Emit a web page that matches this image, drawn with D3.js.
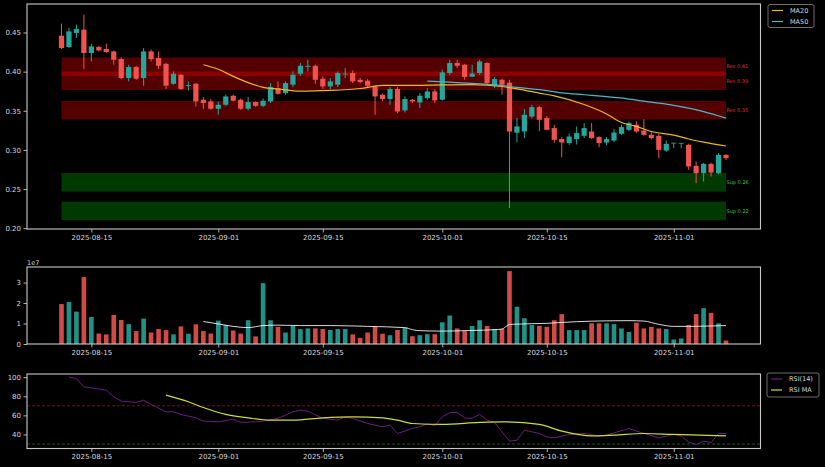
<!DOCTYPE html>
<html><head><meta charset="utf-8">
<script src="https://cdn.jsdelivr.net/npm/d3@7"></script>
<style>body{margin:0;background:#000;} svg{display:block;font-family:"DejaVu Sans",sans-serif;}</style>
</head><body><svg id="c" width="825" height="467"></svg>
<script>
const dates = ["2025-08-11","2025-08-12","2025-08-13","2025-08-14","2025-08-15","2025-08-16","2025-08-17","2025-08-18","2025-08-19","2025-08-20",
"2025-08-21","2025-08-22","2025-08-23","2025-08-24","2025-08-25","2025-08-26","2025-08-27","2025-08-28","2025-08-29","2025-08-30",
"2025-08-31","2025-09-01","2025-09-02","2025-09-03","2025-09-04","2025-09-05","2025-09-06","2025-09-07","2025-09-08","2025-09-09",
"2025-09-10","2025-09-11","2025-09-12","2025-09-13","2025-09-14","2025-09-15","2025-09-16","2025-09-17","2025-09-18","2025-09-19",
"2025-09-20","2025-09-21","2025-09-22","2025-09-23","2025-09-24","2025-09-25","2025-09-26","2025-09-27","2025-09-28","2025-09-29",
"2025-09-30","2025-10-01","2025-10-02","2025-10-03","2025-10-04","2025-10-05","2025-10-06","2025-10-07","2025-10-08","2025-10-09",
"2025-10-10","2025-10-11","2025-10-12","2025-10-13","2025-10-14","2025-10-15","2025-10-16","2025-10-17","2025-10-18","2025-10-19",
"2025-10-20","2025-10-21","2025-10-22","2025-10-23","2025-10-24","2025-10-25","2025-10-26","2025-10-27","2025-10-28","2025-10-29",
"2025-10-30","2025-10-31","2025-11-01","2025-11-02","2025-11-03","2025-11-04","2025-11-05","2025-11-06","2025-11-07","2025-11-08"];
const opens = [0.4459,0.4315,0.4494,0.4536,0.4238,0.4315,0.4289,0.4258,0.4161,0.3918,
0.4059,0.3918,0.4258,0.4174,0.4100,0.3845,0.3960,0.3818,0.3845,0.3641,
0.3619,0.3525,0.3577,0.3692,0.3641,0.3526,0.3611,0.3564,0.3619,0.3790,
0.3726,0.3833,0.3973,0.4062,0.4075,0.3909,0.3811,0.3833,0.3965,0.3982,
0.3896,0.3884,0.3811,0.3705,0.3650,0.3778,0.3504,0.3641,0.3606,0.3662,
0.3747,0.3641,0.3982,0.4110,0.4088,0.3935,0.3982,0.4110,0.3820,0.3896,
0.3860,0.3220,0.3235,0.3427,0.3547,0.3407,0.3279,0.3139,0.3087,0.3138,
0.3180,0.3235,0.3164,0.3095,0.3120,0.3206,0.3257,0.3321,0.3248,0.3193,
0.3180,0.2992,0.3087,0.3085,0.3065,0.2797,0.2703,0.2822,0.2703,0.2937];
const highs = [0.4613,0.4558,0.4600,0.4728,0.4353,0.4331,0.4357,0.4271,0.4182,0.4088,
0.4075,0.4302,0.4280,0.4258,0.4110,0.4003,0.3969,0.3875,0.3854,0.3675,
0.3650,0.3619,0.3705,0.3705,0.3657,0.3675,0.3620,0.3657,0.3854,0.3875,
0.3875,0.4003,0.4110,0.4152,0.4088,0.3939,0.3918,0.4003,0.4046,0.4015,
0.3920,0.3905,0.3820,0.3720,0.3803,0.3803,0.3683,0.3650,0.3726,0.3790,
0.3778,0.4030,0.4152,0.4152,0.4100,0.4088,0.4152,0.4120,0.3931,0.3910,
0.3896,0.3410,0.3522,0.3577,0.3560,0.3430,0.3320,0.3164,0.3210,0.3300,
0.3343,0.3343,0.3175,0.3164,0.3270,0.3320,0.3365,0.3365,0.3394,0.3225,
0.3210,0.3120,0.3092,0.3090,0.3080,0.2850,0.2836,0.2836,0.2960,0.2945];
const lows = [0.4289,0.4300,0.4430,0.4033,0.4130,0.4258,0.4238,0.4088,0.3905,0.3875,
0.3896,0.3820,0.4130,0.4033,0.3778,0.3833,0.3769,0.3760,0.3555,0.3522,
0.3513,0.3449,0.3564,0.3620,0.3513,0.3504,0.3550,0.3547,0.3599,0.3705,
0.3705,0.3800,0.3948,0.4003,0.3845,0.3778,0.3778,0.3803,0.3918,0.3854,
0.3850,0.3803,0.3449,0.3620,0.3577,0.3470,0.3478,0.3600,0.3535,0.3641,
0.3599,0.3630,0.3960,0.4046,0.3896,0.3930,0.3960,0.3833,0.3790,0.3705,
0.2256,0.3095,0.3151,0.3407,0.3240,0.3250,0.3090,0.2906,0.3065,0.3070,
0.3150,0.3140,0.3036,0.3060,0.3100,0.3190,0.3240,0.3220,0.3180,0.3135,
0.2895,0.2975,0.3023,0.3020,0.2746,0.2575,0.2596,0.2660,0.2690,0.2870];
const closes = [0.4302,0.4514,0.4545,0.4238,0.4322,0.4271,0.4251,0.4152,0.3918,0.4059,
0.3909,0.4258,0.4161,0.4075,0.3820,0.3973,0.3778,0.3828,0.3619,0.3599,
0.3526,0.3577,0.3683,0.3628,0.3526,0.3611,0.3564,0.3628,0.3805,0.3717,
0.3854,0.3960,0.4075,0.4075,0.3896,0.3811,0.3875,0.3982,0.3975,0.3875,
0.3867,0.3820,0.3683,0.3650,0.3778,0.3491,0.3650,0.3619,0.3692,0.3747,
0.3632,0.3990,0.4110,0.4075,0.3931,0.3975,0.4130,0.3854,0.3905,0.3833,
0.3235,0.3300,0.3449,0.3547,0.3385,0.3257,0.3129,0.3095,0.3171,0.3215,
0.3279,0.3151,0.3087,0.3138,0.3222,0.3292,0.3343,0.3235,0.3193,0.3151,
0.3001,0.3078,0.3092,0.3090,0.2788,0.2703,0.2822,0.2711,0.2937,0.2895];
const volumes = [19500000,20500000,15800000,32700000,13200000,5100000,4700000,14200000,11700000,9700000,
6300000,12400000,5600000,7300000,6800000,4700000,8600000,5000000,9600000,6300000,
5100000,11400000,9300000,6600000,5100000,11600000,3700000,29700000,11600000,8300000,
5600000,8900000,7300000,7600000,7600000,7300000,6900000,7300000,7300000,4700000,
3000000,5600000,8300000,5000000,4300000,6900000,7900000,3800000,4300000,4800000,
4800000,10600000,13900000,7600000,6300000,8800000,11600000,8800000,7300000,7300000,
35600000,18200000,12600000,9300000,8900000,8400000,11600000,14600000,6800000,6800000,
6800000,10100000,10100000,10100000,9700000,7600000,5900000,10400000,7600000,8300000,
7600000,7300000,2200000,2700000,9300000,14600000,17500000,15200000,10100000,1700000];
const ma20Points = [["2025-08-30",0.4088],["2025-09-01",0.4030],["2025-09-03",0.3940],["2025-09-05",0.3860],["2025-09-07",0.3800],
["2025-09-09",0.3778],["2025-09-12",0.3750],["2025-09-16",0.3760],["2025-09-20",0.3785],["2025-09-23",0.3825],["2025-09-27",0.3825],
["2025-10-01",0.3830],["2025-10-05",0.3833],["2025-10-09",0.3810],["2025-10-11",0.3780],["2025-10-14",0.3726],["2025-10-16",0.3690],
["2025-10-20",0.3580],["2025-10-23",0.3460],["2025-10-25",0.3350],["2025-10-27",0.3300],["2025-10-29",0.3235],["2025-11-01",0.3190],
["2025-11-03",0.3140],["2025-11-05",0.3100],["2025-11-08",0.3050]];
const ma50Points = [["2025-09-29",0.3880],["2025-10-02",0.3865],["2025-10-05",0.3850],["2025-10-08",0.3830],["2025-10-11",0.3800],
["2025-10-14",0.3770],["2025-10-17",0.3730],["2025-10-20",0.3705],["2025-10-23",0.3680],["2025-10-26",0.3650],["2025-10-29",0.3610],
["2025-11-01",0.3570],["2025-11-03",0.3535],["2025-11-05",0.3490],["2025-11-08",0.3407]];
const volMaPoints = [["2025-08-30",11000000],["2025-09-01",9800000],["2025-09-03",8600000],["2025-09-05",8000000],["2025-09-07",9000000],
["2025-09-09",9200000],["2025-09-12",9000000],["2025-09-16",9000000],["2025-09-21",8600000],["2025-09-26",8000000],["2025-09-27",7000000],
["2025-09-28",6500000],["2025-10-01",6300000],["2025-10-05",6600000],["2025-10-08",7000000],["2025-10-09",7300000],["2025-10-10",9500000],
["2025-10-11",9700000],["2025-10-15",10100000],["2025-10-19",10900000],["2025-10-23",11300000],["2025-10-26",11400000],["2025-10-28",11200000],
["2025-10-30",9600000],["2025-11-01",8600000],["2025-11-03",8600000],["2025-11-06",8800000],["2025-11-08",9000000]];
const rsiPoints = [["2025-08-12",100],["2025-08-13",98.6],["2025-08-14",89.8],["2025-08-15",88.8],["2025-08-17",86.4],["2025-08-18",79.4],
["2025-08-19",74.9],["2025-08-21",73.5],["2025-08-22",75.9],["2025-08-23",71.4],["2025-08-25",63.7],["2025-08-26",63.7],["2025-08-27",61],
["2025-08-29",57.4],["2025-08-30",54],["2025-09-01",53.2],["2025-09-03",56],["2025-09-04",52.6],["2025-09-06",53.2],["2025-09-07",54],
["2025-09-09",56.8],["2025-09-11",63.7],["2025-09-12",65.4],["2025-09-13",64.4],["2025-09-15",56.8],["2025-09-17",55],["2025-09-18",58.4],
["2025-09-19",56.8],["2025-09-21",51.5],["2025-09-23",48],["2025-09-24",49.7],["2025-09-25",41],["2025-09-27",46.3],["2025-09-28",48],
["2025-09-29",51.5],["2025-09-30",49],["2025-10-01",58.4],["2025-10-02",63],["2025-10-03",63],["2025-10-04",57.4],["2025-10-05",56.8],
["2025-10-06",61],["2025-10-07",55],["2025-10-08",52.6],["2025-10-09",42.7],["2025-10-10",33],["2025-10-11",34],["2025-10-12",44.5],
["2025-10-14",41],["2025-10-15",37.5],["2025-10-16",36.4],["2025-10-18",40],["2025-10-20",41],["2025-10-22",38.5],["2025-10-23",39.3],
["2025-10-26",46.3],["2025-10-27",43.5],["2025-10-30",36.4],["2025-11-01",40],["2025-11-02",38.5],["2025-11-03",32],["2025-11-04",29.5],
["2025-11-05",33],["2025-11-06",31.5],["2025-11-07",41],["2025-11-08",41]];
const rsiMaPoints = [["2025-08-25",81.2],["2025-08-28",74.2],["2025-08-30",68.2],["2025-09-02",61],["2025-09-05",57.4],["2025-09-08",55],
["2025-09-11",55],["2025-09-15",57.4],["2025-09-19",58.4],["2025-09-23",57.4],["2025-09-25",55],["2025-09-27",51.5],["2025-10-01",50.5],
["2025-10-06",52.6],["2025-10-09",53.2],["2025-10-14",50.5],["2025-10-17",43.5],["2025-10-21",38.5],["2025-10-24",39.3],["2025-10-28",41],
["2025-11-01",40],["2025-11-08",38.5]];
const resistanceLevels = [0.4063, 0.3883, 0.3507];
const supportLevels = [0.2586, 0.2221];
const zoneHalfWidth = 0.0118;
const priceTicks = [0.20, 0.25, 0.30, 0.35, 0.40, 0.45];
const volumeTicks = [0, 1e7, 2e7, 3e7];
const rsiTicks = [40, 60, 80, 100];
const rsiLevels = [70, 30];
const dateTicks = ["2025-08-15","2025-09-01","2025-09-15","2025-10-01","2025-10-15","2025-11-01"];

const parse = d3.utcParse("%Y-%m-%d");
const D = dates.map(parse);
const day = 864e5;
const svg = d3.select("#c");
svg.append("rect").attr("width",825).attr("height",467).attr("fill","#000");
const L = 27, R = 760.5;
const x = d3.scaleUtc().domain([new Date(+D[0]-4.62*day), new Date(+D[D.length-1]+4.62*day)]).range([L, R]);
const bw = (x(D[1]) - x(D[0]));
const UP = "#26a69a", DN = "#ef5350";
const TXT = "#d8d8d8", SP = "#c8c8c8";
const RSI_C = "#6a1f7e";

function frame(top, bottom){
  svg.append("rect").attr("x",L).attr("y",top).attr("width",R-L).attr("height",bottom-top)
    .attr("fill","none").attr("stroke",SP).attr("stroke-width",1.1);
}
function styleAxis(g){
  g.select(".domain").remove();
  g.selectAll(".tick line").attr("stroke",SP).attr("stroke-width",0.9);
  g.selectAll(".tick text").attr("fill",TXT).attr("font-size","7px").attr("font-family","DejaVu Sans, sans-serif");
}
function xAxis(yb){
  const g = svg.append("g").attr("transform",`translate(0,${yb})`)
    .call(d3.axisBottom(x).tickValues(dateTicks.map(parse)).tickFormat(d3.utcFormat("%Y-%m-%d")).tickSize(3.5).tickPadding(2.5));
  styleAxis(g);
}
function yAxis(scale, ticks, fmt){
  const g = svg.append("g").attr("transform",`translate(${L},0)`)
    .call(d3.axisLeft(scale).tickValues(ticks).tickFormat(fmt).tickSize(3.5).tickPadding(2.5));
  styleAxis(g);
}

// ---------- main price panel ----------
const pTop = 4, pBot = 229;
const yP = d3.scaleLinear().domain([0.1990, 0.4864]).range([pBot, pTop]);
const zoneX0 = x(D[0]), zoneX1 = x(D[D.length-1]);
const zones = svg.append("g");
resistanceLevels.forEach(lv => {
  zones.append("rect").attr("x",zoneX0).attr("width",zoneX1-zoneX0)
    .attr("y",yP(lv+zoneHalfWidth)).attr("height",yP(lv-zoneHalfWidth)-yP(lv+zoneHalfWidth))
    .attr("fill","#ff0000").attr("fill-opacity",0.33);
});
supportLevels.forEach(lv => {
  zones.append("rect").attr("x",zoneX0).attr("width",zoneX1-zoneX0)
    .attr("y",yP(lv+zoneHalfWidth)).attr("height",yP(lv-zoneHalfWidth)-yP(lv+zoneHalfWidth))
    .attr("fill","#00b000").attr("fill-opacity",0.33);
});
resistanceLevels.forEach(lv => {
  svg.append("text").attr("x",zoneX1+0.5).attr("y",yP(lv)).attr("dy","0.35em")
    .attr("fill","#e03030").attr("font-size","5px").text("Res " + lv.toFixed(2));
});
supportLevels.forEach(lv => {
  svg.append("text").attr("x",zoneX1+0.5).attr("y",yP(lv)).attr("dy","0.35em")
    .attr("fill","#30d030").attr("font-size","5px").text("Sup " + lv.toFixed(2));
});

// candles
const cg = svg.append("g");
D.forEach((d,i) => {
  const up = closes[i] >= opens[i];
  const col = up ? UP : DN;
  const cx = x(d);
  cg.append("line").attr("x1",cx).attr("x2",cx).attr("y1",yP(highs[i])).attr("y2",yP(lows[i]))
    .attr("stroke",col).attr("stroke-width",1);
  const top = yP(Math.max(opens[i],closes[i])), bot = yP(Math.min(opens[i],closes[i]));
  cg.append("rect").attr("x",cx-bw*0.35).attr("width",bw*0.7).attr("y",top).attr("height",Math.max(0.8,bot-top))
    .attr("fill",col);
});

const lineP = d3.line().x(p => x(parse(p[0]))).y(p => yP(p[1])).curve(d3.curveMonotoneX);
svg.append("path").datum(ma20Points).attr("d",lineP).attr("fill","none").attr("stroke","#e8b923").attr("stroke-width",1.2);
svg.append("path").datum(ma50Points).attr("d",lineP).attr("fill","none").attr("stroke","#4db6c6").attr("stroke-width",1.2);

frame(pTop, pBot);
yAxis(yP, priceTicks, d3.format(".2f"));
xAxis(pBot);

function legend(x0, y0, w, h, items){
  const g = svg.append("g");
  g.append("rect").attr("x",x0).attr("y",y0).attr("width",w).attr("height",h).attr("rx",2)
    .attr("fill","#000").attr("stroke","#888").attr("stroke-width",0.8);
  items.forEach((it,k) => {
    const yy = y0 + 6 + k*11;
    g.append("line").attr("x1",x0+4).attr("x2",x0+15).attr("y1",yy).attr("y2",yy)
      .attr("stroke",it[1]).attr("stroke-width",1.2);
    g.append("text").attr("x",x0+22).attr("y",yy).attr("dy","0.35em").attr("fill",TXT)
      .attr("font-size","6.5px").text(it[0]);
  });
}
legend(768, 4.5, 46, 23, [["MA20","#e8b923"],["MA50","#4db6c6"]]);

// ---------- volume panel ----------
const vTop = 267, vBot = 344;
const yV = d3.scaleLinear().domain([0, 3.76e7]).range([vBot, vTop]);
const vg = svg.append("g");
D.forEach((d,i) => {
  const up = closes[i] >= opens[i];
  vg.append("rect").attr("x",x(d)-bw*0.31).attr("width",bw*0.62)
    .attr("y",yV(volumes[i])).attr("height",vBot-yV(volumes[i]))
    .attr("fill",up?UP:DN).attr("fill-opacity",0.88);
});
const lineV = d3.line().x(p => x(parse(p[0]))).y(p => yV(p[1])).curve(d3.curveMonotoneX);
svg.append("path").datum(volMaPoints).attr("d",lineV).attr("fill","none").attr("stroke","#ffffff").attr("stroke-width",1).attr("stroke-opacity",0.85);
frame(vTop, vBot);
yAxis(yV, volumeTicks, v => String(v/1e7));
xAxis(vBot);
svg.append("text").attr("x",L).attr("y",265).attr("fill",TXT).attr("font-size","6.5px").text("1e7");

// ---------- RSI panel ----------
const rTop = 374, rBot = 448.5;
const yR = d3.scaleLinear().domain([25.3, 103.3]).range([rBot, rTop]);
svg.append("line").attr("x1",L).attr("x2",R).attr("y1",yR(rsiLevels[0])).attr("y2",yR(rsiLevels[0]))
  .attr("stroke","#c02020").attr("stroke-opacity",0.65).attr("stroke-dasharray","3,2").attr("stroke-width",0.9);
svg.append("line").attr("x1",L).attr("x2",R).attr("y1",yR(rsiLevels[1])).attr("y2",yR(rsiLevels[1]))
  .attr("stroke","#20a020").attr("stroke-opacity",0.65).attr("stroke-dasharray","3,2").attr("stroke-width",0.9);
const lineR = d3.line().x(p => x(parse(p[0]))).y(p => yR(p[1]));
svg.append("path").datum(rsiPoints).attr("d",lineR).attr("fill","none").attr("stroke",RSI_C).attr("stroke-width",1);
svg.append("path").datum(rsiMaPoints).attr("d",lineR.curve(d3.curveMonotoneX)).attr("fill","none").attr("stroke","#cddc39").attr("stroke-width",1.2);
frame(rTop, rBot);
yAxis(yR, rsiTicks, d3.format("d"));
xAxis(rBot);
legend(767, 373, 52, 24, [["RSI(14)",RSI_C],["RSI MA","#cddc39"]]);
</script></body></html>
